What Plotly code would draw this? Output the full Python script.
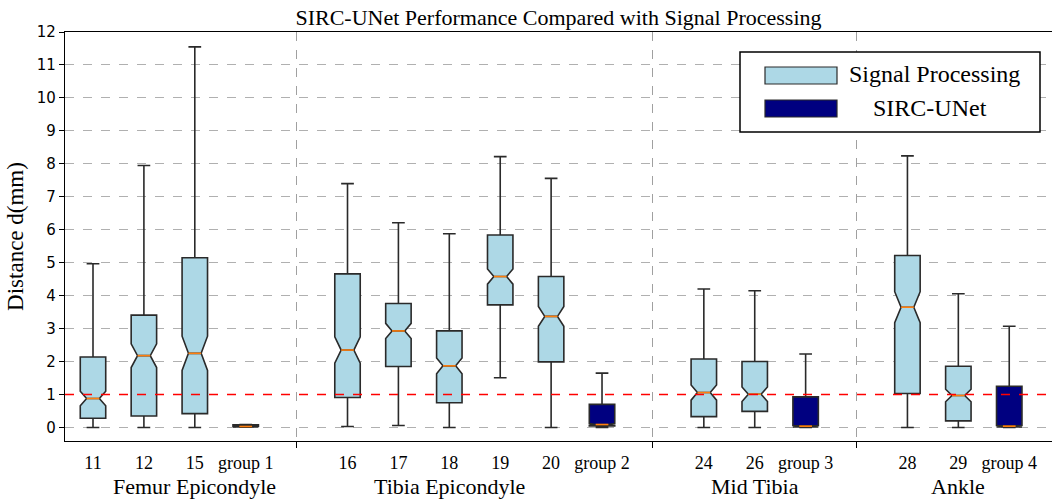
import plotly.graph_objects as go

# ---------------- data ----------------
sp_labels = ["11", "12", "15", "16", "17", "18", "19", "20", "24", "26", "28", "29"]
sp_pos = [1, 2, 3, 6, 7, 8, 9, 10, 13, 14, 17, 18]
sp_lower = [0.0, 0.0, 0.0, 0.03, 0.06, 0.0, 1.51, 0.0, 0.0, 0.0, 0.0, 0.0]
sp_q1 = [0.28, 0.35, 0.42, 0.91, 1.85, 0.75, 3.72, 1.99, 0.33, 0.49, 1.03, 0.20]
sp_median = [0.88, 2.18, 2.25, 2.35, 2.93, 1.87, 4.58, 3.37, 1.06, 1.01, 3.65, 0.97]
sp_q3 = [2.14, 3.41, 5.15, 4.66, 3.76, 2.93, 5.84, 4.58, 2.08, 2.00, 5.22, 1.86]
sp_upper = [4.97, 7.95, 11.55, 7.40, 6.21, 5.88, 8.22, 7.56, 4.20, 4.15, 8.24, 4.06]
sp_notch = [0.22, 0.36, 0.52, 0.40, 0.23, 0.24, 0.23, 0.30, 0.23, 0.22, 0.47, 0.19]

sirc_labels = ["group 1", "group 2", "group 3", "group 4"]
sirc_pos = [4, 11, 15, 19]
sirc_lower = [0.01, 0.0, 0.0, 0.0]
sirc_q1 = [0.02, 0.05, 0.02, 0.02]
sirc_median = [0.03, 0.09, 0.04, 0.04]
sirc_q3 = [0.08, 0.70, 0.93, 1.25]
sirc_upper = [0.09, 1.65, 2.23, 3.07]
sirc_notch = [0.01, 0.03, 0.02, 0.02]

group_names = ["Femur Epicondyle", "Tibia Epicondyle", "Mid Tibia", "Ankle"]
group_label_pos = [3, 8, 14, 18]
separators = [5, 12, 16]
threshold = 1.0

BOX_W = 0.5
SERIF = "Liberation Serif"
SANS = "DejaVu Sans"
EDGE = "#2a2a2a"

fig = go.Figure()

fig.add_trace(go.Box(
    name="Signal Processing", x=sp_pos, q1=sp_q1, median=sp_median, q3=sp_q3,
    lowerfence=sp_lower, upperfence=sp_upper, notched=True, notchspan=sp_notch,
    notchwidth=0.25, width=BOX_W, whiskerwidth=0.5, boxpoints=False,
    fillcolor="#ADD8E6", line=dict(color=EDGE, width=1.6), showlegend=False,
    hoverinfo="skip"))

fig.add_trace(go.Box(
    name="SIRC-UNet", x=sirc_pos, q1=sirc_q1, median=sirc_median, q3=sirc_q3,
    lowerfence=sirc_lower, upperfence=sirc_upper, notched=True, notchspan=sirc_notch,
    notchwidth=0.25, width=BOX_W, whiskerwidth=0.5, boxpoints=False,
    fillcolor="#000080", line=dict(color=EDGE, width=1.6), showlegend=False,
    hoverinfo="skip"))

# orange median lines
mx, my = [], []
for p, m in list(zip(sp_pos, sp_median)) + list(zip(sirc_pos, sirc_median)):
    mx += [p - BOX_W / 4, p + BOX_W / 4, None]
    my += [m, m, None]
fig.add_trace(go.Scatter(x=mx, y=my, mode="lines", line=dict(color="#FF7F0E", width=1.6),
                         showlegend=False, hoverinfo="skip"))

tickvals = sp_pos + sirc_pos
ticktext = sp_labels + sirc_labels

# threshold line
fig.add_shape(type="line", xref="paper", yref="y", x0=0, x1=1, y0=threshold, y1=threshold,
              line=dict(color="red", width=1.5, dash="dash"), layer="above")

# group labels
for name, p in zip(group_names, group_label_pos):
    fig.add_annotation(x=p, y=-0.112, xref="x", yref="paper", text=name, showarrow=False,
                       font=dict(family=SERIF, size=22, color="black"), yanchor="middle")

# custom legend (pixel -> paper)
L, R, T, B = 65, 1052, 32, 441
def px(x):
    return (x - L) / (R - L)
def py(y):
    return (B - y) / (B - T)

fig.add_shape(type="rect", xref="paper", yref="paper", x0=px(740), x1=px(1040), y0=py(132), y1=py(52),
              line=dict(color="black", width=1.5), fillcolor="white", layer="above")
fig.add_shape(type="rect", xref="paper", yref="paper", x0=px(765), x1=px(837), y0=py(84), y1=py(67),
              line=dict(color=EDGE, width=1.2), fillcolor="#ADD8E6", layer="above")
fig.add_shape(type="rect", xref="paper", yref="paper", x0=px(765), x1=px(837), y0=py(117), y1=py(100),
              line=dict(color=EDGE, width=1.2), fillcolor="#000080", layer="above")
fig.add_annotation(x=px(847), y=py(74), xref="paper", yref="paper", text="Signal Processing",
                   showarrow=False, xanchor="left", yanchor="middle",
                   font=dict(family=SERIF, size=24, color="black"))
fig.add_annotation(x=px(871), y=py(108), xref="paper", yref="paper", text="SIRC-UNet",
                   showarrow=False, xanchor="left", yanchor="middle",
                   font=dict(family=SERIF, size=24, color="black"))

fig.update_layout(
    width=1052, height=500,
    margin=dict(l=L, r=0, t=T, b=500 - B),
    plot_bgcolor="white", paper_bgcolor="white",
    boxmode="overlay",
    title=dict(text="SIRC-UNet Performance Compared with Signal Processing",
               x=(L + R) / 2 / 1052, xanchor="center", y=1 - 17 / 500, yanchor="middle",
               font=dict(family=SERIF, size=22, color="black")),
    xaxis=dict(range=[0.45, 19.84], tickmode="array", tickvals=tickvals, ticktext=ticktext,
               ticks="", showgrid=False, zeroline=False, showline=True, linecolor="black",
               linewidth=1.2, mirror=True, ticklabelstandoff=5,
               tickfont=dict(family=SERIF, size=18, color="black"),
               minor=dict(tickmode="array", tickvals=separators, ticks="outside", ticklen=6,
                          tickcolor="black", showgrid=True, gridcolor="#a0a0a0",
                          griddash="dash", gridwidth=1)),
    yaxis=dict(range=[-0.41, 12], tickmode="linear", tick0=0, dtick=1, ticks="outside",
               ticklen=5, tickcolor="black", showline=True, linecolor="black", linewidth=1.2,
               showgrid=True, gridcolor="#b0b0b0", griddash="dash", gridwidth=1,
               zeroline=False,
               tickfont=dict(family=SANS, size=15, color="black"),
               title=dict(text="Distance d(mm)", font=dict(family=SERIF, size=23, color="black"),
                          standoff=6)),
)

fig.write_html("out.html")
